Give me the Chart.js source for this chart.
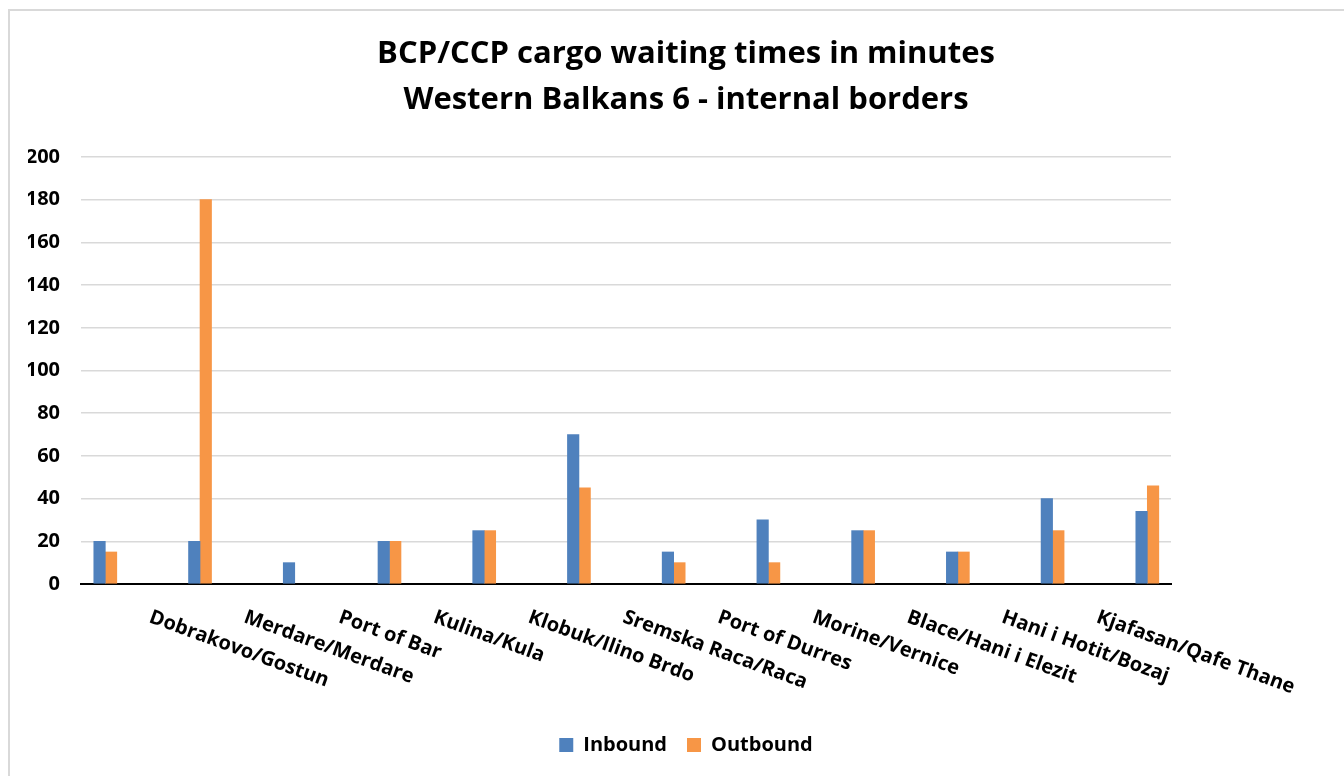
<!DOCTYPE html>
<html>
<head>
<meta charset="utf-8">
<script src="https://cdn.jsdelivr.net/npm/chart.js@4"></script>
<style>
  html, body { margin: 0; padding: 0; background: #fff; }
</style>
</head>
<body>
<canvas id="c" width="1344" height="776"></canvas>
<script>
// crossing points (first slot has no label in the source chart)
const categories = ['', 'Dobrakovo/Gostun', 'Merdare/Merdare', 'Port of Bar', 'Kulina/Kula',
  'Klobuk/Ilino Brdo', 'Sremska Raca/Raca', 'Port of Durres', 'Morine/Vernice',
  'Blace/Hani i Elezit', 'Hani i Hotit/Bozaj', 'Kjafasan/Qafe Thane']
const inbound = [20, 20, 10, 20, 25, 70, 15, 30, 25, 15, 40, 34]
const outbound = [15, 180, null, 20, 25, 45, 10, 10, 25, 15, 25, 46]
const yTicks = [0, 20, 40, 60, 80, 100, 120, 140, 160, 180, 200]

const FONT = '"Open Sans"'

// outer frame + white background
const frame = {
  id: 'frame',
  beforeDraw(chart) {
    const ctx = chart.ctx
    ctx.save()
    ctx.fillStyle = '#fff'
    ctx.fillRect(0, 0, chart.width, chart.height)
    ctx.strokeStyle = '#d9d9d9'
    ctx.lineWidth = 2
    ctx.strokeRect(9, 10, chart.width + 20, chart.height + 20)
    ctx.restore()
  }
}

// category names slanted downwards, like the excel original
const slantedLabels = {
  id: 'slantedLabels',
  afterDraw(chart) {
    const xs = chart.scales.x
    const ctx = chart.ctx
    ctx.save()
    ctx.font = 'bold 20px ' + FONT
    ctx.fillStyle = '#000'
    ctx.textAlign = 'left'
    ctx.textBaseline = 'alphabetic'
    categories.forEach((name, i) => {
      if (!name) return
      ctx.save()
      ctx.translate(xs.getPixelForValue(i) - 52, xs.top + 38)
      ctx.rotate(20 * Math.PI / 180)
      ctx.fillText(name, 0, 0)
      ctx.restore()
    })
    ctx.restore()
  }
}

const toXY = arr => arr.map((v, i) => ({ x: i, y: v }))

new Chart(document.getElementById('c'), {
  type: 'bar',
  data: {
    datasets: [
      { label: 'Inbound', data: toXY(inbound), backgroundColor: '#4f81bd', barThickness: 11.5 },
      { label: 'Outbound', data: toXY(outbound), backgroundColor: '#f79646', barThickness: 11.5 }
    ]
  },
  options: {
    responsive: false,
    animation: false,
    layout: { padding: { left: 28, right: 0, top: 0, bottom: 11 } },
    plugins: {
      tooltip: { enabled: false },
      title: {
        display: true,
        text: ['BCP/CCP cargo waiting times in minutes', 'Western Balkans 6 - internal borders'],
        color: '#000',
        font: { family: FONT, size: 31, weight: 'bold', lineHeight: 46 / 31 },
        padding: { top: 31, bottom: 34 }
      },
      legend: {
        position: 'bottom',
        labels: {
          color: '#000',
          boxWidth: 14,
          boxHeight: 14,
          padding: 20,
          font: { family: FONT, size: 20, weight: 'bold' }
        }
      }
    },
    scales: {
      x: {
        type: 'linear',
        offset: false,
        min: -0.2565,
        max: 11.25,
        ticks: { display: false },
        grid: { display: false, drawTicks: false },
        border: { display: true, color: '#000', width: 2 },
        afterFit(s) { s.height = 131 }
      },
      y: {
        min: 0,
        max: 200,
        afterBuildTicks(s) { s.ticks = yTicks.map(v => ({ value: v })) },
        ticks: {
          color: '#000',
          padding: 21,
          font: { family: FONT, size: 20, weight: 'bold' }
        },
        grid: {
          drawTicks: false,
          lineWidth: 1.5,
          color: c => c.tick && c.tick.value === 0 ? 'rgba(0,0,0,0)' : '#d9d9d9'
        },
        border: { display: false },
        afterFit(s) { s.width = 53 }
      },
      // empty space on the right of the plot, like in the original
      pad: {
        type: 'linear',
        position: 'right',
        ticks: { display: false },
        grid: { display: false, drawTicks: false },
        border: { display: false },
        afterFit(s) { s.width = 173 }
      }
    }
  },
  plugins: [frame, slantedLabels]
})
</script>
</body>
</html>
